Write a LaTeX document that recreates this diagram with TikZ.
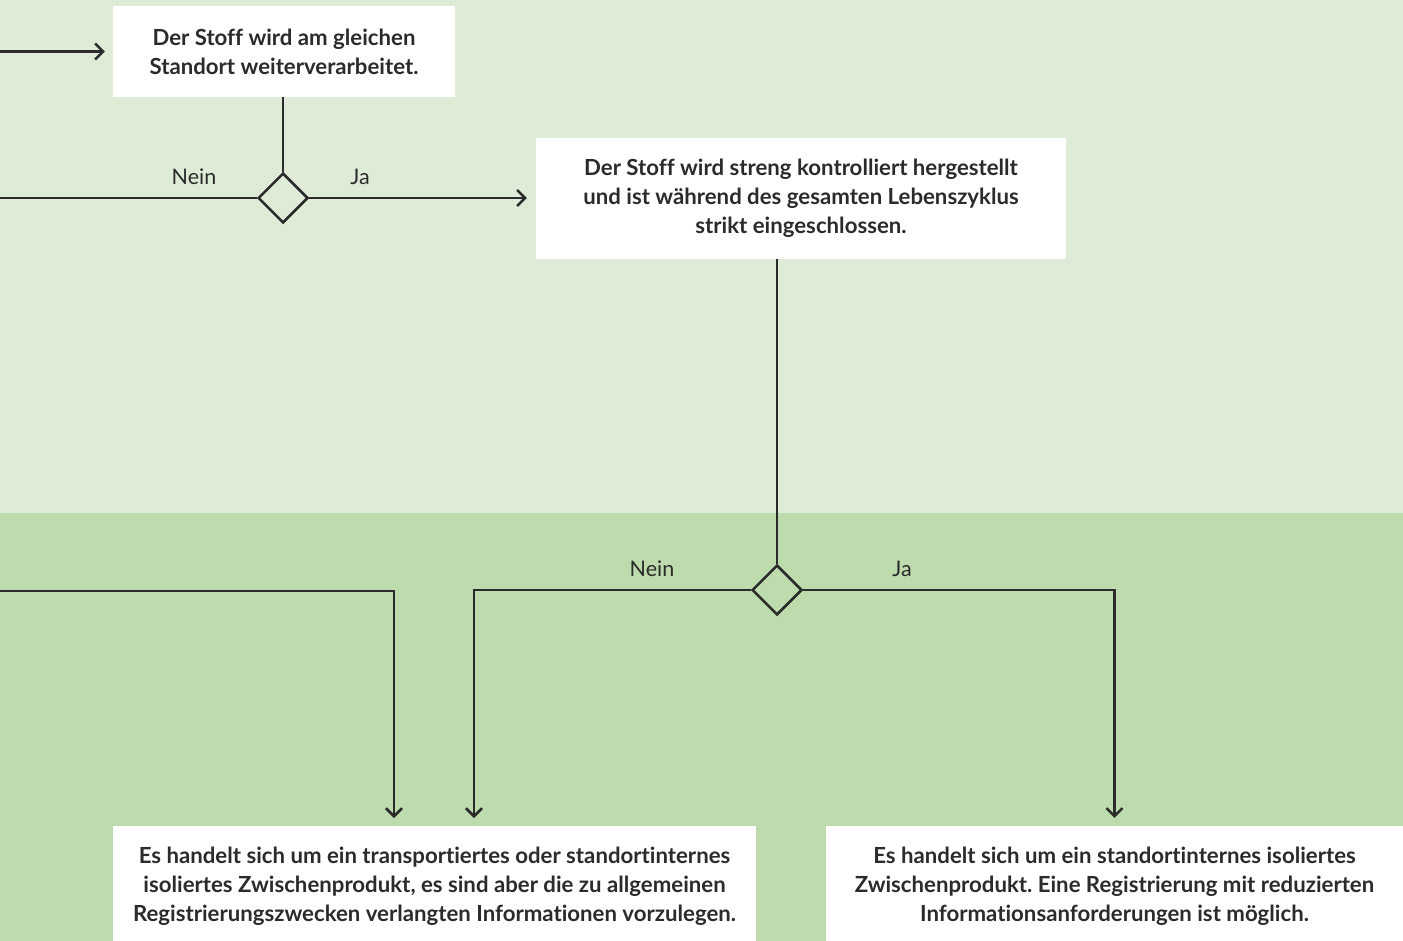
\documentclass[tikz,border=0pt]{standalone}
\usepackage{fontspec}
\setmainfont{Lato}[Ligatures=NoCommon]
\usetikzlibrary{shapes.geometric,arrows.meta}
\definecolor{bgtop}{HTML}{DEEBD6}
\definecolor{bgbot}{HTML}{BDDBAC}
\definecolor{ink}{HTML}{2B2B2B}
\tikzset{
  box/.style={fill=white,inner sep=0pt,align=center,text=ink,font=\fontsize{22.2}{29}\selectfont\bfseries},
  dec/.style={diamond,draw=ink,line width=2.5pt,minimum width=50pt,minimum height=50pt,inner sep=0pt},
  conn/.style={draw=ink,line width=2.5pt},
  arr/.style={conn,-{Straight Barb[length=8pt,width=16pt,line width=2.5pt]}},
  lbl/.style={text=ink,font=\fontsize{21.5}{25}\selectfont,inner sep=0pt}
}
\begin{document}
\frenchspacing
\begin{tikzpicture}[x=1pt,y=-1pt]
\useasboundingbox (0,0) rectangle (1403,941);
\fill[bgtop] (0,0) rectangle (1403,513);
\fill[bgbot] (0,513) rectangle (1403,941);

\node[box,minimum width=342pt,minimum height=91pt] (b1) at (284,51.5)
  {Der Stoff wird am gleichen\\Standort weiterverarbeitet.};
\node[box,minimum width=530pt,minimum height=121pt] (b2) at (801,198.5)
  {Der Stoff wird streng kontrolliert hergestellt\\und ist während des gesamten Lebenszyklus\\strikt eingeschlossen.};
\node[box,minimum width=643pt,minimum height=121pt] (b3) at (434.5,886.5)
  {Es handelt sich um ein transportiertes oder standortinternes\\isoliertes Zwischenprodukt, es sind aber die zu allgemeinen\\Registrierungszwecken verlangten Informationen vorzulegen.};
\node[box,minimum width=577pt,minimum height=121pt] (b4) at (1114.5,886.5)
  {Es handelt sich um ein standortinternes isoliertes\\Zwischenprodukt. Eine Registrierung mit reduzierten\\Informationsanforderungen ist möglich.};

\node[dec] (d1) at (283,198) {};
\node[dec] (d2) at (777,590) {};

\coordinate (in1) at (0,51.5);
\coordinate (in2) at (0,198);
\coordinate (in3) at (0,591);
\coordinate (t3a) at (394,826);
\coordinate (t3b) at (474,826);

\draw[arr,shorten >=8pt] (in1) -- (b1.west);
\draw[conn] (d1.north |- b1.south) -- (d1.north);
\draw[conn] (in2) -- (d1.west);
\draw[arr,shorten >=9pt] (d1.east) -- (b2.west |- d1.east);
\draw[conn] (d2.north |- b2.south) -- (d2.north);
\draw[arr,shorten >=8pt] (d2.west) -| (t3b);
\draw[arr,shorten >=8pt] (d2.east) -| (b4.north);
\draw[arr,shorten >=8pt] (in3) -| (t3a);

\node[lbl] (n1) at (194,177) {Nein};
\node[lbl] (j1) at (360,177) {Ja};
\node[lbl] (n2) at (652,569) {Nein};
\node[lbl] (j2) at (902,569) {Ja};
\end{tikzpicture}
\end{document}
